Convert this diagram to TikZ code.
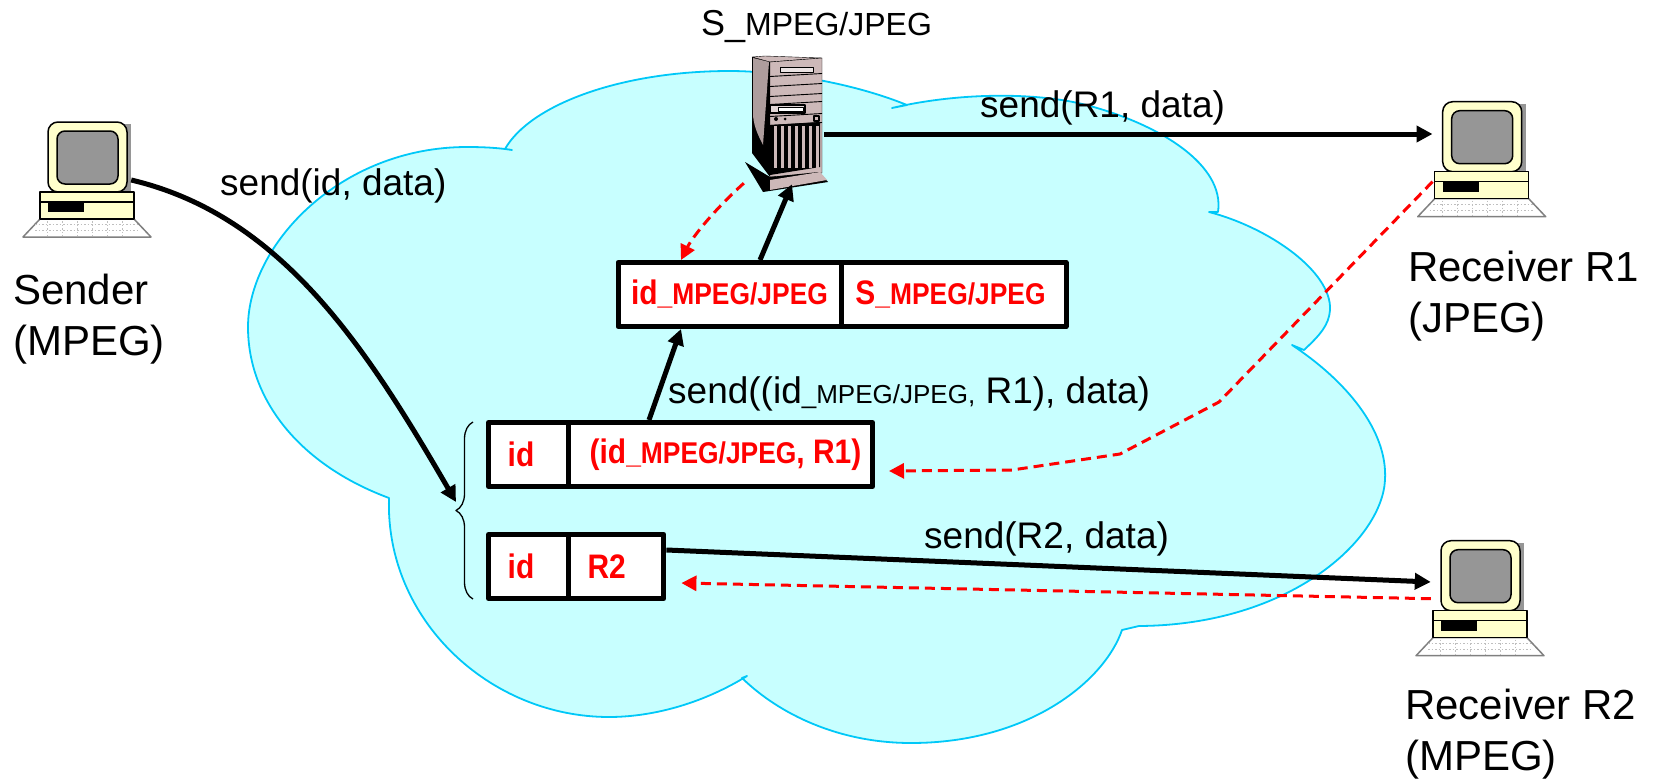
\documentclass[tikz,border=0pt]{standalone}
\usepackage{fontspec}
\usepackage{tikz}
\usetikzlibrary{positioning,arrows.meta,decorations.pathreplacing}
\setmainfont{Liberation Sans}
\newfontfamily\cellfont[FakeStretch=0.88]{Liberation Sans Bold}
\definecolor{cloudfill}{HTML}{C8FFFF}
\definecolor{cloudline}{HTML}{00C8F8}
\definecolor{cream}{HTML}{FFFFCC}
\definecolor{screengray}{HTML}{969696}
\definecolor{towerpink}{HTML}{CDB9B9}
\newcommand{\fmt}{{\fontsize{26}{26}\selectfont \_MPEG/JPEG,}}
\newcommand{\cellfmt}{{\fontsize{30}{30}\selectfont \_MPEG/JPEG}}

\begin{document}
\begin{tikzpicture}
[
    x=1pt, y=-1pt,
    line join=round,
    sendlabel/.style={anchor=base west, inner sep=0, font=\fontsize{37}{44}\selectfont},
    endlabel/.style={anchor=base west, inner sep=0, align=left, font=\fontsize{42}{51}\selectfont},
    cellbox/.style={draw, line width=5pt, fill=white, text=red, inner sep=0,
        minimum height=64pt, minimum width=#1, font=\cellfont\fontsize{34}{34}\selectfont},
    hostbox/.style={minimum width=98pt, minimum height=116pt, inner sep=0},
    datapath/.style={line width=5pt, -{Triangle[length=16pt,width=16pt]}},
    replypath/.style={red, line width=3pt, dash pattern=on 10pt off 6pt, -{Triangle[length=15pt,width=15pt]}},
    computer/.pic={
        \fill[screengray] (-36,-56) rectangle (44,14);
        \draw[line width=1.5pt, fill=cream, rounded corners=10pt] (-39,-58) rectangle (40,12);
        \draw[line width=1.5pt, fill=screengray, rounded corners=8pt] (-30,-49) rectangle (31,4);
        \draw[gray, line width=1.5pt, fill=white] (-47,39) -- (47,39) -- (64,57) -- (-64,57) -- cycle;
        \foreach \kx in {-40,-25,...,40} \draw[lightgray, dash pattern=on 1.5pt off 2pt] (\kx,41) -- (\kx,56);
        \foreach \ky in {44,50} \draw[lightgray, dash pattern=on 1.5pt off 2pt] (-52,\ky) -- (52,\ky);
        \draw[line width=1.5pt, fill=cream] (-47,12) rectangle (47,39);
        \draw[line width=1.2pt] (-47,22) -- (47,22);
        \fill (-39,22) rectangle (-3,32);
    },
    tower/.pic={
        \draw[fill=towerpink] (-34,-68) -- (-21,-69) -- (36,-67) -- (-16,-63) -- cycle;
        \fill (-34,-68) -- (-16,-63) -- (-16,52) -- (-34,28) -- cycle;
        \fill[towerpink!85!black] (-33,-67) -- (-17,-63) -- (-23,20) .. controls (-28,10) and (-33,0) .. (-33,-12) -- cycle;
        \draw[fill=towerpink] (-16,-63) -- (36,-67) -- (36,48) -- (-16,52) -- cycle;
        \foreach \sy in {-50,-40,-30,-22,-10,-1} \draw[line width=.9pt] (-16,\sy+1.5) -- (36,\sy-1.5);
        \draw[fill=towerpink!40!white] (-6,-58) rectangle (27,-53);
        \draw[line width=1.2pt, fill=towerpink!60!white] (-16,-20) rectangle (19,-12);
        \draw[fill=white] (-8,-18) rectangle (17,-14);
        \fill (-10,-6) circle (2pt) (-1,-6) circle (1.5pt);
        \draw[line width=1.2pt] (28,-9) rectangle (33,-4);
        \fill (-16,0) -- (34,-3) -- (34,42) -- (-16,50) -- cycle;
        \foreach \gx in {-12,-5,...,30} \fill[towerpink] (\gx,1) rectangle (\gx+3,43);
        \fill (-41,37) -- (-23,67) -- (42,57) -- (33,47) -- (-16,52) -- cycle;
        \fill[towerpink] (-16,55) -- (34,47) -- (41,55) -- (-16,65) -- cycle;
    },
]
\useasboundingbox (0,0) rectangle (1654,779);

\draw[cloudline, fill=cloudfill, line width=1.8pt]
    (505,149) .. controls (530,105) and (620,71) .. (730,71) .. controls (765,71) and (840,78) .. (907,105)
    -- (892,108) .. controls (960,92) and (1040,92) .. (1090,106) .. controls (1160,125) and (1225,165) .. (1218,212)
    -- (1209,212) .. controls (1270,228) and (1332,272) .. (1330,310) .. controls (1329,325) and (1320,335) .. (1304,350)
    -- (1292,345) .. controls (1345,380) and (1388,430) .. (1385,480) .. controls (1382,540) and (1290,625) .. (1139,626)
    -- (1122,630) .. controls (1105,680) and (1030,743) .. (911,743) .. controls (840,743) and (780,715) .. (742,678)
    -- (747,676) .. controls (700,705) and (650,717) .. (609,717) .. controls (490,717) and (385,620) .. (389,498)
    .. controls (300,465) and (248,400) .. (248,327) .. controls (248,245) and (340,147) .. (467,147)
    .. controls (485,147) and (500,148) .. (512,150) -- cycle;

\node [hostbox] (sender) at (87,180) {};
\node [hostbox] (recvone) at (1481.7,159.7) {};
\node [hostbox] (recvtwo) at (1480,598.7) {};
\node [minimum width=76pt, minimum height=134pt, inner sep=0] (server) at (786,125) {};
\pic at (sender) {computer};
\pic at (recvone) {computer};
\pic at (recvtwo) {computer};
\pic at (server) {tower};

\node [cellbox=223pt] (idswitch) at (729.5,294.5) {id{\cellfmt}};
\node [cellbox=225pt, right=-5pt of idswitch] (sswitch) {S{\cellfmt}\hspace*{6pt}};
\node [cellbox=80pt] (idone) at (528.5,454.5) {id\hspace*{15pt}};
\node [cellbox=304pt, right=-5pt of idone] (addrone) {\hspace{10pt}(id{\cellfmt}, R1)};
\node [cellbox=80pt] (idtwo) at (528.5,566.5) {id\hspace*{15pt}};
\node [cellbox=95.4pt, right=-5pt of idtwo] (addrtwo) {R2\hspace*{19pt}};

\coordinate (bracetip) at (456,502);
\draw[line width=1.3pt, decorate, decoration={brace, amplitude=17pt}]
    ([xshift=-13pt,yshift=2pt]idtwo.south west) -- ([xshift=-13pt,yshift=-2pt]idone.north west);

\node [sendlabel] (sendid) at (220,195) {send(id, data)};
\node [sendlabel] (sendone) at (980,117) {send(R1, data)};
\node [sendlabel] (sendswitch) at (668,403) {send((id\fmt{} R1), data)};
\node [sendlabel] (sendtwo) at (924,548) {send(R2, data)};
\node [anchor=base west, inner sep=0] (servername) at (701,35)
    {\fontsize{36}{36}\selectfont S\_{\fontsize{32}{32}\selectfont MPEG/JPEG}};
\node [endlabel] (sendername) at (13,355) {Sender\\(MPEG)};
\node [endlabel] (nameone) at (1408,332) {Receiver R1\\(JPEG)};
\node [endlabel] (nametwo) at (1405,770) {Receiver R2\\(MPEG)};

\draw[datapath] ([xshift=-5pt]sender.east) .. controls (280,215) and (365,345) .. (bracetip);
\draw[datapath] ([xshift=83pt]addrone.north west) -- ([xshift=65.5pt]idswitch.south west);
\draw[datapath] ([xshift=144.5pt]idswitch.north west) -- ([xshift=6pt,yshift=8pt]server.south);
\draw[datapath] ([yshift=-9pt]server.east) -- ([yshift=25.7pt]recvone.west);
\draw[datapath] ([yshift=16.5pt]addrtwo.east) -- ([yshift=16.7pt]recvtwo.west);

\draw[replypath] ([xshift=-4pt,yshift=9pt]server.south west) .. controls (712,212) and (692,238) .. ([xshift=65.5pt]idswitch.north west);
\draw[replypath] ([yshift=-22pt]recvone.west) -- (1219,402) -- (1120,454) -- (1012,470) -- ([xshift=14pt,yshift=-16.5pt]addrone.east);
\draw[replypath] (recvtwo.west) -- ([xshift=15pt,yshift=-16.5pt]addrtwo.east);
\end{tikzpicture}
\end{document}
